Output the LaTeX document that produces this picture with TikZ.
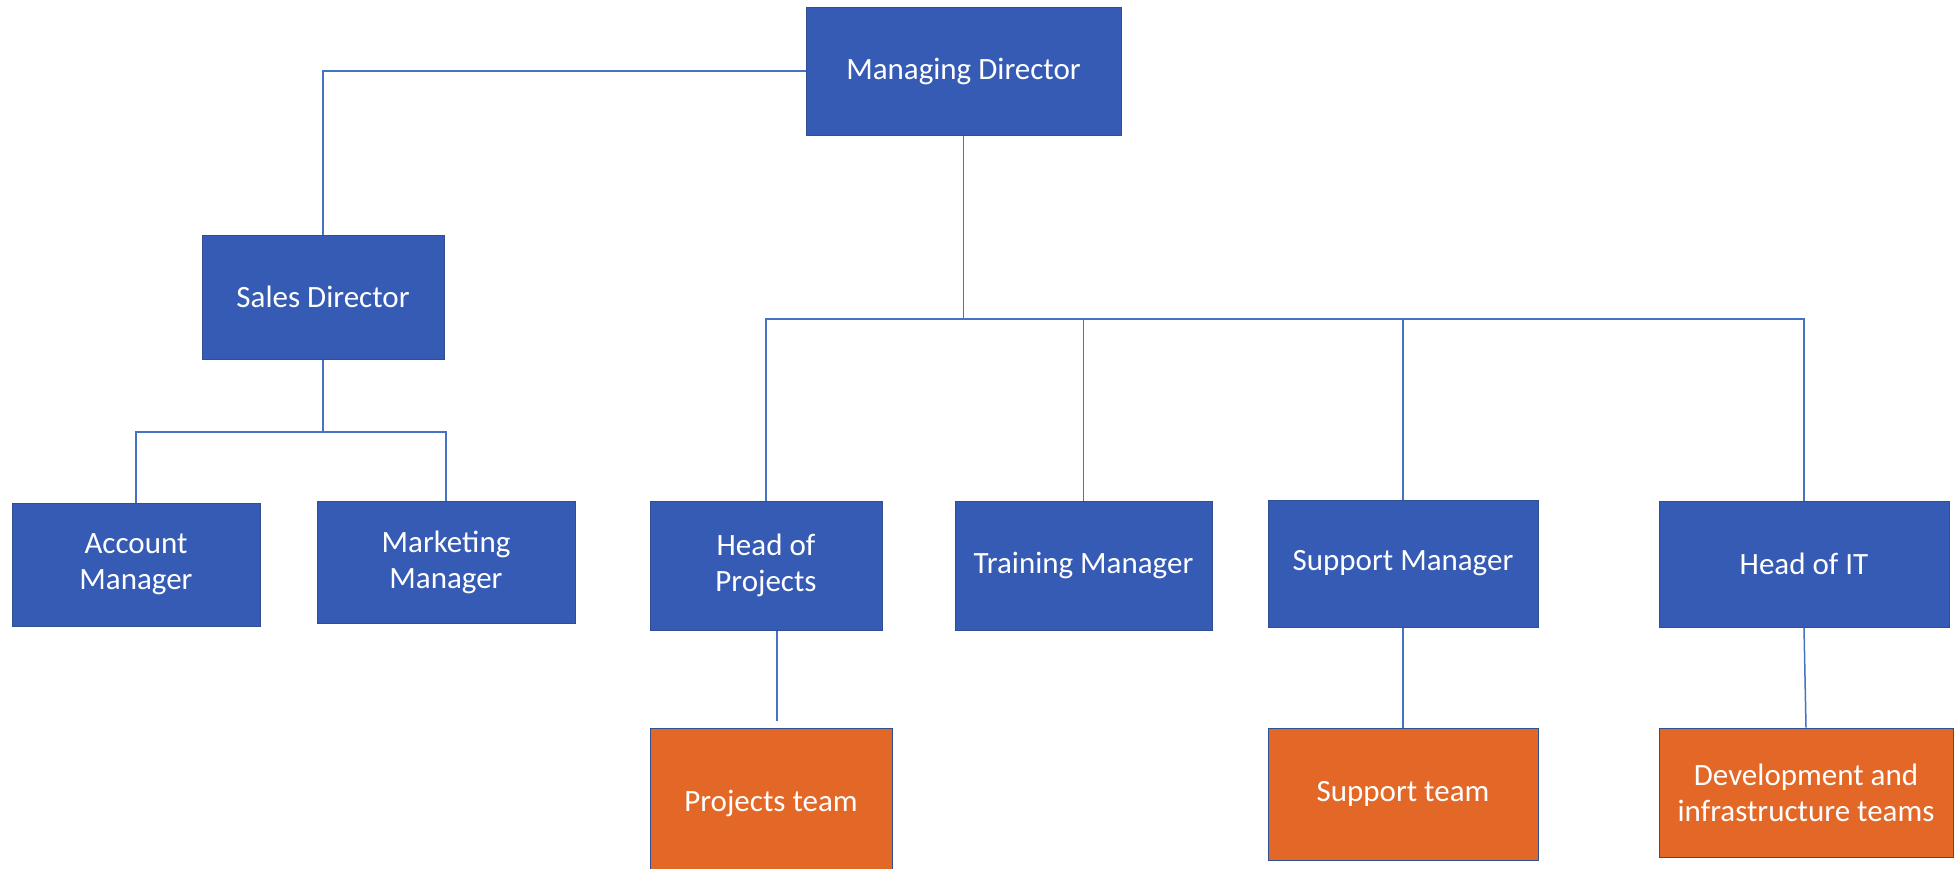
\documentclass[tikz,border=0pt]{standalone}
\usepackage{fontspec}
\setmainfont{Carlito}
\definecolor{boxblue}{HTML}{365BB5}
\definecolor{boxorange}{HTML}{E36726}
\definecolor{boxedge}{HTML}{2F4E93}
\definecolor{linkblue}{HTML}{4472C4}
\tikzset{role/.style={rectangle,fill=boxblue,draw=boxedge,line width=1pt,text=white,align=center,inner sep=0pt,font=\fontsize{31}{36}\selectfont}}
\tikzset{team/.style={role,fill=boxorange}}
\tikzset{link/.style={draw=linkblue,line width=1.5pt}}

\begin{document}
\begin{tikzpicture}[x=1pt,y=-1pt]
    \useasboundingbox (0,0) rectangle (1959,868);

    % top
    \node[role,minimum width=315,minimum height=128] (md) at (963.5,71) {Managing Director};
    \node[role,minimum width=242,minimum height=124] (sd) at (323,297) {Sales Director};

    % sales side
    \node[role,minimum width=248,minimum height=123] (am) at (136,564.5) {Account\\Manager};
    \node[role,minimum width=258,minimum height=122] (mm) at (446,562) {Marketing\\Manager};

    % managers
    \node[role,minimum width=232,minimum height=129] (hop) at (766,565.5) {Head of\\Projects};
    \node[role,minimum width=257,minimum height=129] (tm) at (1083.5,565.5) {Training Manager};
    \node[role,minimum width=270,minimum height=127] (sm) at (1403,563.5) {Support Manager};
    \node[role,minimum width=290,minimum height=126] (hit) at (1804,564) {Head of IT};

    % teams
    \node[team,minimum width=242,minimum height=150] (pt) at (771,803) {Projects team};
    \node[team,minimum width=270,minimum height=132] (st) at (1403,794) {Support team};
    \node[team,minimum width=294,minimum height=129] (dit) at (1806,792.5) {Development and\\infrastructure teams};

    % bus lines
    \coordinate (bus) at (963.5,319);
    \coordinate (sbus) at (323,432);

    % connectors
    \draw[link] (md.west) -| (sd.north);
    \foreach \n in {am,mm}
        \draw[link] (sd.south) |- (\n.north |- sbus) -- (\n.north);
    \foreach \n in {hop,tm,sm,hit}
        \draw[link] (md.south) |- (\n.north |- bus) -- (\n.north);
    \draw[link,shorten >=4pt] (hop.south -| pt.north) ++(6,0) -- ++(0,94);
    \draw[link] (sm.south) -- (st.north);
    \draw[link] (hit.south) -- (dit.north);
\end{tikzpicture}
\end{document}
